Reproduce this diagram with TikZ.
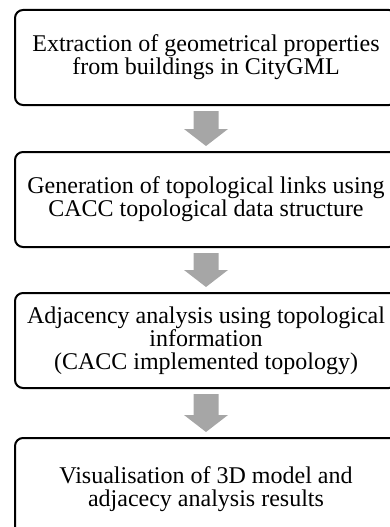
\documentclass[tikz,border=0pt]{standalone}
\usepackage{fontspec}
\setmainfont{Liberation Serif}
\usetikzlibrary{calc}
\definecolor{arrowgray}{HTML}{A6A6A6}
\tikzset{
  stagebox/.style={draw=black, line width=2pt, rounded corners=8pt, fill=white,
    minimum width=382pt, minimum height=95pt, align=center, inner sep=0pt,
    font=\fontsize{24}{23}\selectfont},
}
% block arrow from the bottom of one box to the top of the next
\newcommand\blockarrow[2]{%
  \fill[arrowgray]
    ($(#1.south)+(-12.5,5)$) -- ($(#1.south)+(12.5,5)$) --
    ($(#2.north)+(12.5,-22)$) -- ($(#2.north)+(22,-22)$) --
    ($(#2.north)+(0,-5)$) --
    ($(#2.north)+(-22,-22)$) -- ($(#2.north)+(-12.5,-22)$) -- cycle;}
\begin{document}
\begin{tikzpicture}[x=1pt, y=-1pt]
  \useasboundingbox (0,0) rectangle (390,527);
  \clip (0,0) rectangle (390,527);
  \node[stagebox] (b1) at (206,57.5)
    {Extraction of geometrical properties\\from buildings in CityGML};
  \node[stagebox] (b2) at (206,199.5)
    {Generation of topological links using\\CACC topological data structure};
  \node[stagebox] (b3) at (206,340.5)
    {Adjacency analysis using topological\\information\\(CACC implemented topology)};
  \node[stagebox, minimum height=102pt] (b4) at (206,489)
    {Visualisation of 3D model and\\adjacecy analysis results};
  \blockarrow{b1}{b2}
  \blockarrow{b2}{b3}
  \blockarrow{b3}{b4}
\end{tikzpicture}
\end{document}
